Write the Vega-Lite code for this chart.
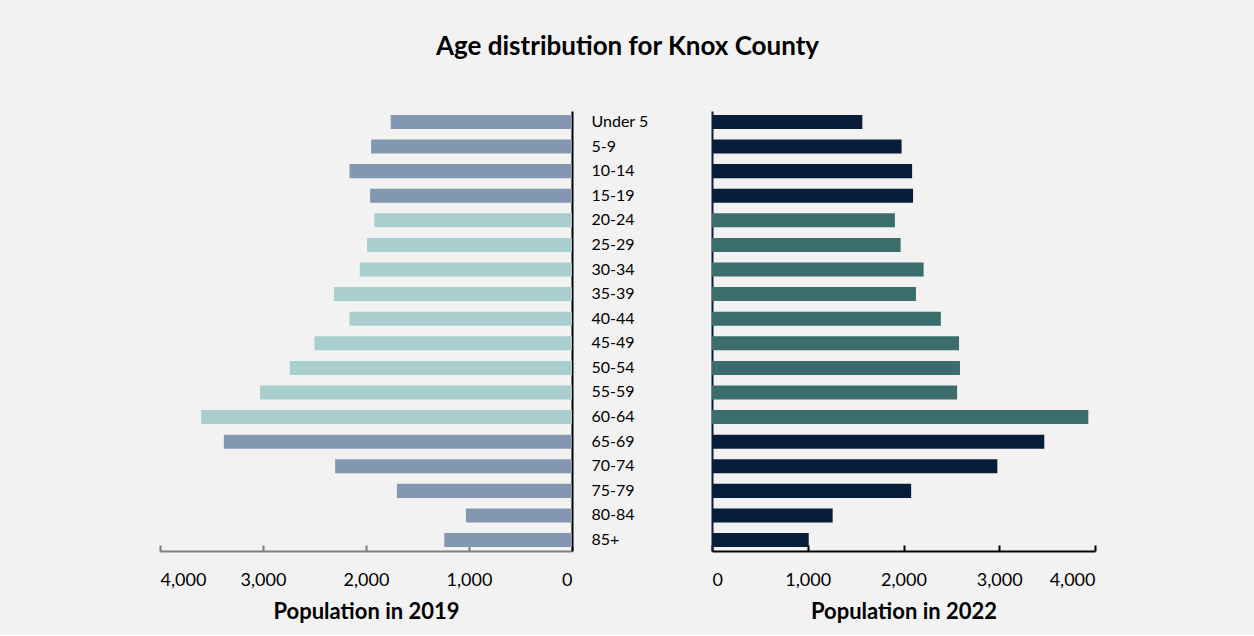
{
  "$schema": "https://vega.github.io/schema/vega-lite/v6.json",
  "background": "#F2F2F2",
  "padding": {"left": 159, "right": 160, "top": 34, "bottom": 13},
  "title": {"text": "Age distribution for Knox County", "fontSize": 26, "font": "Lato", "fontWeight": "bold", "color": "#000000", "anchor": "middle", "offset": 51},
  "data": {"values": [
    {"age": "Under 5", "pop2019": 1760, "pop2022": 1570, "group": "youth_senior"},
    {"age": "5-9", "pop2019": 1950, "pop2022": 1980, "group": "youth_senior"},
    {"age": "10-14", "pop2019": 2160, "pop2022": 2090, "group": "youth_senior"},
    {"age": "15-19", "pop2019": 1960, "pop2022": 2100, "group": "youth_senior"},
    {"age": "20-24", "pop2019": 1920, "pop2022": 1910, "group": "working"},
    {"age": "25-29", "pop2019": 1990, "pop2022": 1970, "group": "working"},
    {"age": "30-34", "pop2019": 2060, "pop2022": 2210, "group": "working"},
    {"age": "35-39", "pop2019": 2310, "pop2022": 2130, "group": "working"},
    {"age": "40-44", "pop2019": 2160, "pop2022": 2390, "group": "working"},
    {"age": "45-49", "pop2019": 2500, "pop2022": 2580, "group": "working"},
    {"age": "50-54", "pop2019": 2740, "pop2022": 2590, "group": "working"},
    {"age": "55-59", "pop2019": 3030, "pop2022": 2560, "group": "working"},
    {"age": "60-64", "pop2019": 3600, "pop2022": 3930, "group": "working"},
    {"age": "65-69", "pop2019": 3380, "pop2022": 3470, "group": "youth_senior"},
    {"age": "70-74", "pop2019": 2300, "pop2022": 2980, "group": "youth_senior"},
    {"age": "75-79", "pop2019": 1700, "pop2022": 2080, "group": "youth_senior"},
    {"age": "80-84", "pop2019": 1030, "pop2022": 1260, "group": "youth_senior"},
    {"age": "85+", "pop2019": 1240, "pop2022": 1010, "group": "youth_senior"}
  ]},
  "spacing": 140,
  "bounds": "flush",
  "resolve": {"scale": {"color": "independent"}},
  "hconcat": [
    {
      "width": 412,
      "height": 440,
      "mark": {"type": "bar"},
      "encoding": {
        "y": {
          "field": "age", "type": "nominal", "sort": null,
          "scale": {"paddingInner": 0.43, "paddingOuter": 0.16},
          "axis": {"orient": "right", "title": null, "ticks": false, "domainColor": "#000000", "domainWidth": 2, "labelPadding": 19, "labelFontSize": 16, "labelColor": "#000000", "labelFont": "Lato"}
        },
        "x": {
          "field": "pop2019", "type": "quantitative",
          "scale": {"domain": [0, 4000], "reverse": true, "nice": false},
          "axis": {"values": [0, 1000, 2000, 3000, 4000], "format": ",.0f", "title": "Population in 2019", "tickSize": -6, "tickWidth": 2, "tickColor": "#7F7F7F", "domainColor": "#7F7F7F", "domainWidth": 2, "labelPadding": 26, "labelFontSize": 18, "labelColor": "#000000", "labelFont": "Lato", "titleFont": "Lato", "titleFontSize": 22, "titleFontWeight": "bold", "titleColor": "#000000", "titlePadding": 12, "grid": false}
        },
        "color": {"field": "group", "type": "nominal", "scale": {"domain": ["youth_senior", "working"], "range": ["#8497B0", "#A8CECE"]}, "legend": null}
      }
    },
    {
      "width": 383,
      "height": 440,
      "mark": {"type": "bar"},
      "encoding": {
        "y": {
          "field": "age", "type": "nominal", "sort": null,
          "scale": {"paddingInner": 0.43, "paddingOuter": 0.16},
          "axis": {"title": null, "ticks": false, "labels": false, "domainColor": "#0A1F3A", "domainWidth": 2}
        },
        "x": {
          "field": "pop2022", "type": "quantitative",
          "scale": {"domain": [0, 4000], "nice": false},
          "axis": {"values": [0, 1000, 2000, 3000, 4000], "format": ",.0f", "title": "Population in 2022", "tickSize": -6, "tickWidth": 2, "tickColor": "#000000", "domainColor": "#000000", "domainWidth": 2, "labelPadding": 26, "labelFontSize": 18, "labelColor": "#000000", "labelFont": "Lato", "titleFont": "Lato", "titleFontSize": 22, "titleFontWeight": "bold", "titleColor": "#000000", "titlePadding": 12, "grid": false}
        },
        "color": {"field": "group", "type": "nominal", "scale": {"domain": ["youth_senior", "working"], "range": ["#071C38", "#3B6D6D"]}, "legend": null}
      }
    }
  ],
  "config": {"view": {"stroke": null}, "font": "Lato", "axis": {"grid": false}}
}
